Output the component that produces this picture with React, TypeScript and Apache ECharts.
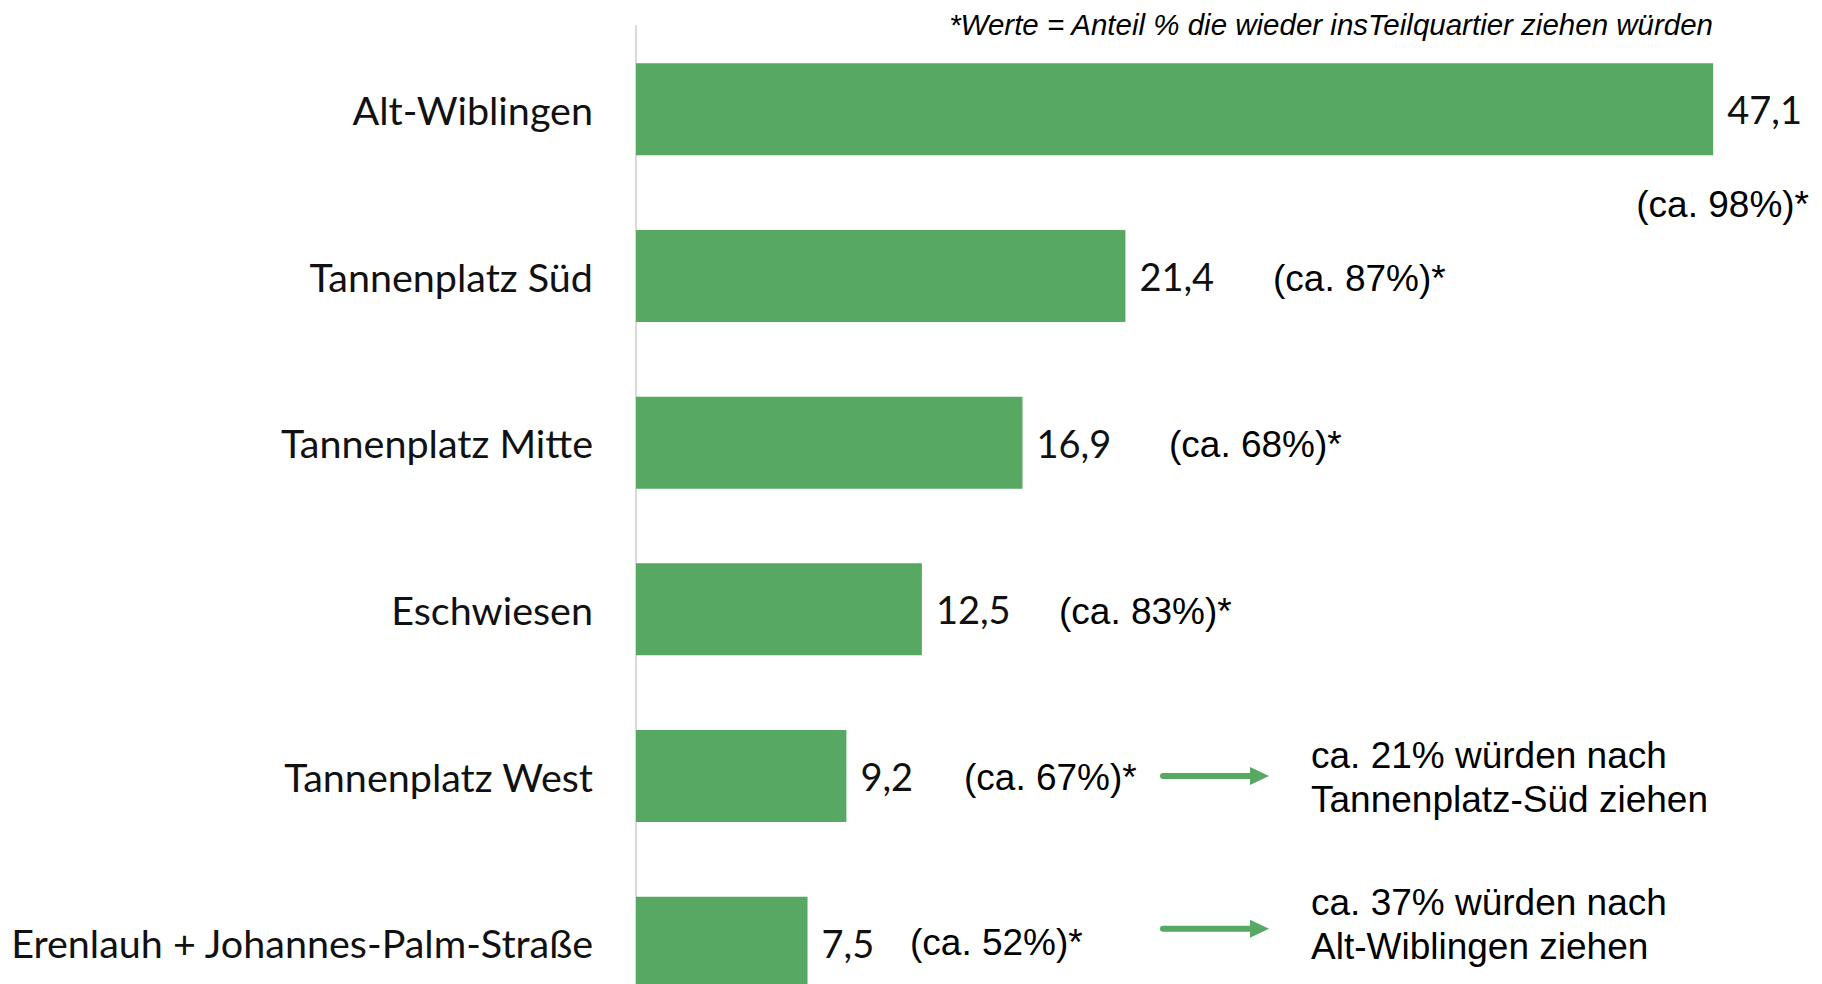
import React, { useEffect, useRef } from "react";
import * as echarts from "echarts";

const categories = [
  "Alt-Wiblingen",
  "Tannenplatz Süd",
  "Tannenplatz Mitte",
  "Eschwiesen",
  "Tannenplatz West",
  "Erenlauh + Johannes-Palm-Straße",
];
const values = [47.1, 21.4, 16.9, 12.5, 9.2, 7.5];
const shareNotes = ["(ca. 98%)*", "(ca. 87%)*", "(ca. 68%)*", "(ca. 83%)*", "(ca. 67%)*", "(ca. 52%)*"];
const moveFrom = [4, 5];
const moveLines = [
  ["ca. 21% würden nach", "Tannenplatz-Süd ziehen"],
  ["ca. 37% würden nach", "Alt-Wiblingen ziehen"],
];
const footnote = "*Werte = Anteil % die wieder insTeilquartier ziehen würden";

// layout (pixels)
const BAR = "#56A862";
const noteX = [1809, 1273, 1169, 1059, 964, 910];
const noteDy = [95, 2, 2, 2, 1, 0];
const arrowDy = [0, -14];
const blockDy = [-21, -40];

export default function App() {
  const ref = useRef<HTMLDivElement>(null);
  useEffect(() => {
    const chart = echarts.init(ref.current!, null, { renderer: "svg" });
    chart.setOption({
      animation: false,
      backgroundColor: "#ffffff",
      grid: { left: 636, right: 42.5, top: 26, height: 1000, containLabel: false, outerBoundsMode: "none" },
      xAxis: { type: "value", min: 0, max: 50, show: false },
      yAxis: {
        type: "category",
        data: categories,
        inverse: true,
        axisLine: { show: true, lineStyle: { color: "#d9d9d9", width: 2 } },
        axisTick: { show: false },
        splitLine: { show: false },
        axisLabel: { margin: 43, fontFamily: "Lato", fontSize: 39.5, color: "#111" },
      },
      series: [
        {
          type: "bar",
          data: values,
          barWidth: 92,
          itemStyle: { color: BAR },
          label: {
            show: true,
            position: "right",
            distance: 14,
            formatter: (p: any) => String(p.value).replace(".", ","),
            fontFamily: "Lato",
            fontSize: 38,
            color: "#111",
          },
        },
      ],
    });

    const g: any[] = [];
    const yOf = (i: number) => chart.convertToPixel({ yAxisIndex: 0 }, i) as number;
    const arial = "37px 'Liberation Sans', Arial, sans-serif";
    shareNotes.forEach((t, i) => {
      g.push({
        type: "text",
        x: noteX[i],
        y: yOf(i) + noteDy[i],
        style: {
          text: t,
          font: arial,
          fill: "#000",
          textAlign: i === 0 ? "right" : "left",
          align: i === 0 ? "right" : "left",
          textVerticalAlign: "middle",
          verticalAlign: "middle",
        },
      });
    });
    moveFrom.forEach((ci, k) => {
      const ya = yOf(ci) + arrowDy[k];
      g.push({
        type: "line",
        shape: { x1: 1163, y1: ya, x2: 1254, y2: ya },
        style: { stroke: BAR, lineWidth: 6, lineCap: "round" },
      });
      g.push({
        type: "polygon",
        shape: { points: [[1250, ya - 9], [1269, ya], [1250, ya + 9]] },
        style: { fill: BAR },
      });
      const yb = yOf(ci) + blockDy[k];
      moveLines[k].forEach((line, j) => {
        g.push({
          type: "text",
          x: 1311,
          y: yb + j * 44,
          style: {
            text: line,
            font: arial,
            fill: "#000",
            textAlign: "left",
            align: "left",
            textVerticalAlign: "middle",
            verticalAlign: "middle",
          },
        });
      });
    });
    g.push({
      type: "text",
      x: 1713,
      y: 24,
      style: {
        text: footnote,
        font: "italic 29.5px 'Liberation Sans', Arial, sans-serif",
        fill: "#000",
        textAlign: "right",
        align: "right",
        textVerticalAlign: "middle",
        verticalAlign: "middle",
      },
    });
    chart.setOption({ graphic: g });
    return () => chart.dispose();
  }, []);
  return (
    <div
      ref={ref}
      style={{ position: "absolute", left: 0, top: 0, width: 1822, height: 984, background: "#fff" }}
    />
  );
}
